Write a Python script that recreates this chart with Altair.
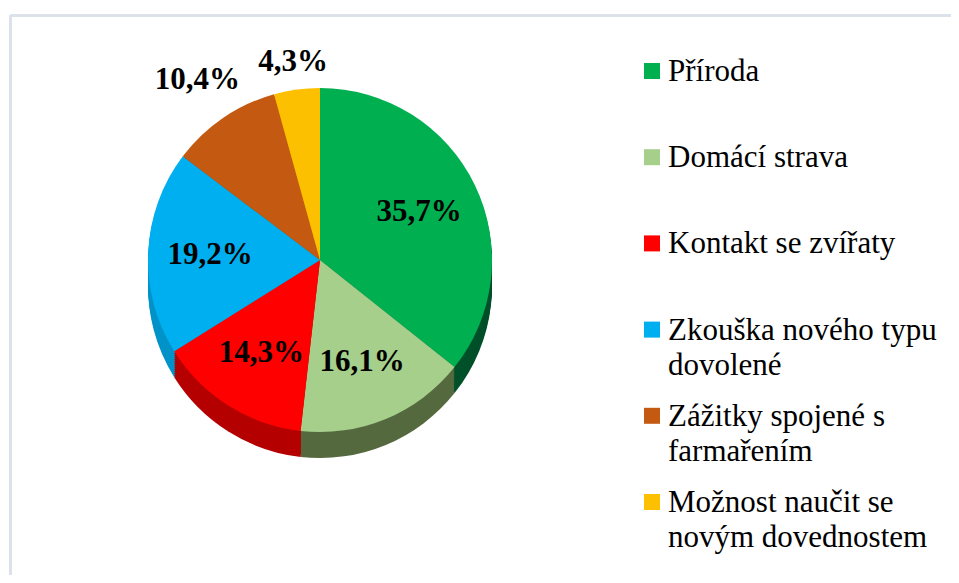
import altair as alt
import pandas as pd

# ---- data ----
categories = [
    "Příroda",
    "Domácí strava",
    "Kontakt se zvířaty",
    "Zkouška nového typu dovolené",
    "Zážitky spojené s farmařením",
    "Možnost naučit se novým dovednostem",
]
legend_text = [
    "Příroda",
    "Domácí strava",
    "Kontakt se zvířaty",
    "Zkouška nového typu\ndovolené",
    "Zážitky spojené s\nfarmařením",
    "Možnost naučit se\nnovým dovednostem",
]
values = [35.7, 16.1, 14.3, 19.2, 10.4, 4.3]
labels = ["35,7%", "16,1%", "14,3%", "19,2%", "10,4%", "4,3%"]

# ---- styles ----
top_colors = ["#00AF50", "#A6CF8C", "#FF0000", "#00AFEF", "#C45A11", "#FDC000"]
side_colors = ["#00502A", "#55693F", "#B50000", "#0093C8", "#8E4210", "#C59500"]

df = pd.DataFrame({
    "cat": categories,
    "value": values,
    "label": labels,
    "legend": legend_text,
    "idx": list(range(len(categories))),
})

W, H = 943, 567
CX, CY = 312, 252
R = 172
DEPTH = 26

base = alt.Chart(df)
theta = alt.Theta("value:Q", stack=True)
order = alt.Order("idx:Q", sort="ascending")

layers = []

# chart frame (top and left edges visible in the reference)
frame_top = base.mark_rule(color="#DCE1EA", strokeWidth=2).encode(
    x=alt.value(2.5), x2=alt.value(W), y=alt.value(7.5)
)
frame_left = base.mark_rule(color="#DCE1EA", strokeWidth=2).encode(
    x=alt.value(2.5), y=alt.value(7.5), y2=alt.value(H)
)
layers += [frame_top, frame_left]

# side of the 3D-looking disc
for d in range(DEPTH, 0, -2):
    layers.append(
        base.mark_arc(outerRadius=R).encode(
            theta=theta,
            order=order,
            color=alt.Color("cat:N", scale=alt.Scale(domain=categories, range=side_colors), legend=None),
            x=alt.value(CX),
            y=alt.value(CY + d),
        )
    )

# top face
layers.append(
    base.mark_arc(outerRadius=R).encode(
        theta=theta,
        order=order,
        color=alt.Color("cat:N", scale=alt.Scale(domain=categories, range=top_colors), legend=None),
        x=alt.value(CX),
        y=alt.value(CY),
    )
)

# value labels: every layer keeps all rows so the stacking stays intact,
# only the text shown differs
def label_layer(test, radius):
    return base.mark_text(
        font="Liberation Serif", fontSize=31, fontWeight="bold", color="black",
        align="center", baseline="middle", radius=radius,
    ).encode(
        theta=theta,
        order=order,
        text=alt.condition(test, alt.Text("label:N"), alt.value("")),
        x=alt.value(CX),
        y=alt.value(CY),
    )

layers.append(label_layer("datum.idx < 4", 110))
layers.append(label_layer("datum.idx == 4", 218))
layers.append(label_layer("datum.idx == 5", 200))

# legend (drawn as marks so that entries keep an even spacing)
ypos = alt.Y("cat:N", scale=alt.Scale(type="point", domain=categories, range=[63, 494], padding=0), axis=None)
layers.append(
    base.mark_square(size=256, opacity=1).encode(
        x=alt.value(644),
        y=ypos,
        color=alt.Color("cat:N", scale=alt.Scale(domain=categories, range=top_colors), legend=None),
    )
)
layers.append(
    base.mark_text(
        font="Liberation Serif", fontSize=31, color="black", align="left",
        baseline="alphabetic", dy=10, lineBreak="\n", lineHeight=35,
    ).encode(
        x=alt.value(660),
        y=ypos,
        text="legend:N",
    )
)

chart = alt.layer(*layers).resolve_scale(color="independent").properties(
    width=W, height=H, padding=0, autosize=alt.AutoSizeParams(type="none"),
).configure_view(stroke=None)

chart.save("out.html", embed_options={"renderer": "svg", "actions": False})
